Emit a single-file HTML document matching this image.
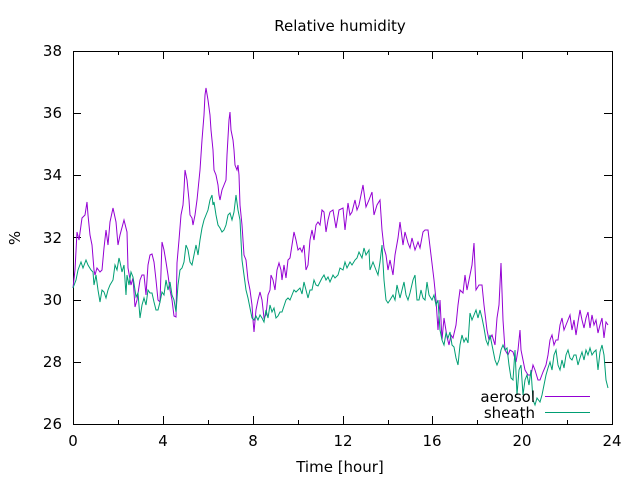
<!DOCTYPE html>
<html><head><meta charset="utf-8"><style>body{margin:0;background:#fff}svg{display:block}text{font-family:"DejaVu Sans","Liberation Sans",sans-serif;font-size:15px;fill:#000}</style></head><body>
<svg width="640" height="480" viewBox="0 0 640 480">
<text x="340" y="31" text-anchor="middle">Relative humidity</text>
<text x="340" y="472" text-anchor="middle">Time [hour]</text>
<text transform="translate(20,238) rotate(-90)" text-anchor="middle">%</text>
<g text-anchor="end">
<text x="62" y="56">38</text><text x="62" y="118">36</text><text x="62" y="180">34</text><text x="62" y="243">32</text><text x="62" y="305">30</text><text x="62" y="367">28</text><text x="62" y="429">26</text>
</g>
<g text-anchor="middle">
<text x="73" y="446">0</text><text x="163" y="446">4</text><text x="253" y="446">8</text><text x="343" y="446">12</text><text x="432" y="446">16</text><text x="522" y="446">20</text><text x="612" y="446">24</text>
</g>
<g stroke="#000" stroke-width="1" fill="none">
<rect x="73.5" y="51.5" width="539" height="373"/>
<path d="M73 113.5h8M612 113.5h-8M73 175.5h8M612 175.5h-8M73 237.5h8M612 237.5h-8M73 300.5h8M612 300.5h-8M73 362.5h8M612 362.5h-8
M163.5 424v-8M163.5 51v8M253.5 424v-8M253.5 51v8M343.5 424v-8M343.5 51v8M432.5 424v-8M432.5 51v8M522.5 424v-8M522.5 51v8
M118.5 424v-4M118.5 51v4M208.5 424v-4M208.5 51v4M298.5 424v-4M298.5 51v4M388.5 424v-4M388.5 51v4M477.5 424v-4M477.5 51v4M567.5 424v-4M567.5 51v4"/>
</g>
<polyline fill="none" stroke="#9400d3" stroke-width="1" points="73,288 75,270 77,232 79,240 82,218 85,215 87,202 88,215 90,235 92,245 94,270 95,275 97,268 100,272 102,270 104,248 106,230 108,245 110,222 113,208 116,222 118,245 120,235 124,220 127,232 128,268 131,285 133,278 135,307 137,300 140,280 142,275 144,275 146,295 148,265 150,255 152,254 154,262 156,280 158,300 160,302 162,242 164,250 166,262 168,275 170,290 172,300 174,316 176,317 177,263 179,240 181,215 183,205 184,190 185,170 187,180 189,200 190,215 192,218 193,225 195,215 197,200 198,190 200,170 202,140 204,115 205,95 206,88 208,100 210,115 211,130 213,150 214,170 216,175 218,185 219,195 220,200 222,190 224,185 226,180 227,155 229,120 230,112 231,130 233,140 234,150 235,165 237,170 238,165 239,175 240,205 242,225 244,255 246,260 248,280 250,290 252,305 253,320 254,332 256,310 258,300 260,292 262,300 264,318 266,315 268,295 270,290 271,275 273,280 275,290 277,270 279,263 281,270 282,280 284,265 286,278 288,260 290,258 292,245 294,232 296,240 298,250 300,248 302,252 304,245 306,270 308,265 310,240 312,230 314,240 316,225 318,222 320,225 322,210 324,212 326,232 328,220 330,212 333,210 336,228 339,210 343,208 345,230 348,203 350,215 352,212 355,200 357,210 359,205 363,185 366,207 369,200 372,192 374,215 377,205 380,200 382,230 384,248 386,255 388,270 390,260 393,275 395,255 398,238 400,222 403,245 405,232 408,243 410,248 412,238 415,250 418,242 420,248 423,232 425,230 428,230 431,255 434,280 436,300 438,330 440,300 442,340 444,318 447,337 449,345 451,335 453,338 456,325 458,305 460,290 463,293 465,275 467,290 470,275 472,265 474,243 476,290 479,285 482,285 484,305 487,330 489,340 492,335 495,345 497,318 499,305 501,263 503,320 505,350 508,355 510,350 513,352 516,362 518,350 520,330 521,350 523,360 525,370 528,375 531,375 533,365 535,370 538,380 540,380 543,372 546,365 548,355 550,340 552,335 554,345 556,340 558,340 560,325 562,318 564,330 566,325 568,320 570,315 572,330 574,320 576,335 578,322 580,310 582,320 584,328 586,318 588,312 590,328 592,315 594,325 596,320 598,333 600,325 602,318 604,338 606,322 608,325"/>
<polyline fill="none" stroke="#009e73" stroke-width="1" points="73,288 76,280 78,270 81,262 83,268 86,260 88,265 91,270 93,272 94,285 96,275 98,290 100,302 102,290 104,292 106,298 108,290 110,285 113,280 115,265 117,270 119,258 120,262 122,272 124,265 126,295 127,275 129,285 131,272 133,277 135,290 136,297 138,293 140,318 142,305 144,298 146,305 148,290 150,293 152,293 154,302 156,310 158,310 160,302 162,292 164,295 166,280 168,290 170,282 172,295 174,300 176,312 178,285 180,270 182,268 184,262 186,245 188,250 190,262 192,265 194,255 196,245 198,255 200,240 202,228 204,220 206,215 208,210 210,200 212,195 213,205 214,202 216,215 218,225 220,228 222,232 224,230 226,225 228,215 230,213 232,220 234,212 236,195 238,210 240,220 242,260 244,275 246,290 248,298 250,308 252,318 254,320 256,316 258,320 260,315 262,318 264,322 266,310 268,318 270,305 272,312 274,308 276,318 278,316 280,312 282,312 284,306 286,300 288,298 290,300 292,295 294,290 296,292 298,290 300,288 302,294 304,282 306,290 308,298 310,290 312,290 314,280 316,285 318,286 320,282 322,278 324,275 326,280 328,277 330,282 333,275 335,278 338,275 340,268 343,270 345,262 347,268 350,262 352,265 355,260 357,258 359,252 362,258 364,248 366,255 369,250 370,270 373,262 376,270 378,275 380,262 382,245 384,280 386,300 388,303 390,300 393,295 395,300 397,285 400,298 402,290 404,282 406,295 408,300 410,293 413,280 415,275 417,300 419,300 421,290 423,298 425,300 427,282 429,295 432,300 434,295 436,305 438,300 440,330 442,340 444,345 446,333 448,338 450,332 452,345 454,347 456,358 458,365 460,345 462,335 464,342 466,338 468,343 470,313 472,320 474,315 476,310 478,318 480,310 482,318 484,328 486,340 488,345 490,335 493,350 495,360 497,365 499,360 501,350 503,345 505,350 507,348 509,365 511,378 513,380 515,350 517,395 519,370 521,365 523,395 525,380 527,375 529,385 531,370 533,400 535,405 537,398 540,402 542,395 544,385 546,375 548,368 550,362 552,370 554,355 556,350 558,365 560,370 562,360 564,368 566,355 568,350 570,358 572,360 574,355 576,355 578,365 580,358 582,352 584,360 586,350 588,355 590,348 592,355 594,352 596,350 598,370 600,352 602,345 604,355 606,380 608,388"/>
<text x="535" y="402" text-anchor="end">aerosol</text>
<text x="535" y="418" text-anchor="end">sheath</text>
<line x1="545" y1="396.5" x2="590" y2="396.5" stroke="#9400d3"/>
<line x1="545" y1="412.5" x2="590" y2="412.5" stroke="#009e73"/>
</svg>
</body></html>
